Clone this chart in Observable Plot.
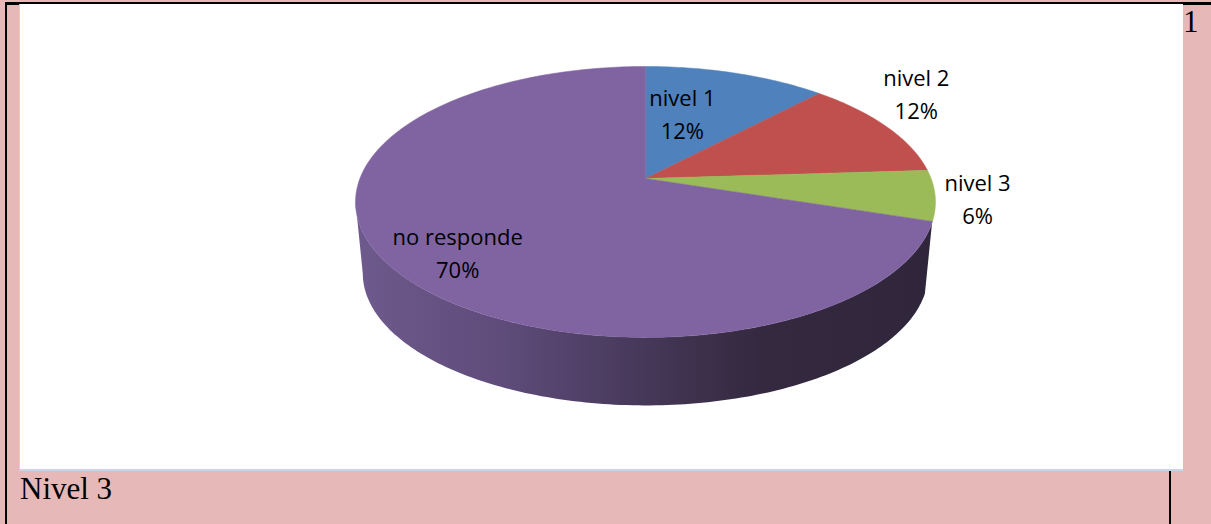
<!DOCTYPE html>
<html>
<head>
<meta charset="utf-8">
<script src="https://cdn.jsdelivr.net/npm/d3@7"></script>
<script src="https://cdn.jsdelivr.net/npm/@observablehq/plot@0.6"></script>
<style>
  html, body { margin: 0; padding: 0; }
  body { width: 1211px; height: 524px; position: relative; overflow: hidden; background: #e6b8b7; }
  .blk { position: absolute; background: #000; }
  #chart { position: absolute; left: 20px; top: 4px; width: 1163px; height: 465px; background: #fff;
           border-bottom: 2px solid #c6d5ec; }
  #chart svg { display: block; }
  #leftedge { position: absolute; left: 19px; top: 4px; width: 1px; height: 467px; background: #c6d5ec; }
  .serif { position: absolute; font-family: "Liberation Serif", "Times New Roman", serif; font-size: 31px; line-height: 31px; color: #000; }
</style>
</head>
<body>
<div class="blk" style="left:5px;top:2px;width:1206px;height:3px"></div>
<div class="blk" style="left:5px;top:2px;width:2px;height:522px"></div>
<div class="blk" style="left:1169px;top:471px;width:2px;height:53px"></div>
<div id="leftedge"></div>
<div id="chart"></div>
<div class="serif" style="left:1183px;top:6px">1</div>
<div class="serif" style="left:20px;top:473px">Nivel 3</div>
<script>
// ---- data ----
const categories = ["nivel 1", "nivel 2", "nivel 3", "no responde"];
const values = [12, 12, 6, 70];
const colors = ["#4f81bd", "#c0504d", "#9bbb59", "#8064a2"];
const sideColors = ["#34557f", "#7f3533", "#5f7a2f", "url(#sideGrad)"];

// ---- 3D pie projection (layout) ----
const A = 285.6, B = 131.4, K = 0.173, DEPTH = 72, BOTTOM_SCALE = 0.975;
const rad = d => d * Math.PI / 180;
function P(theta, r = 1) {
  const s = Math.sin(rad(theta)), c = Math.cos(rad(theta));
  const w = 1 + K * r * c;
  return { x: r * s * A / w, y: -r * c * B / w };
}
const total = d3.sum(values);
let acc = 0;
const slices = categories.map((cat, i) => {
  const a0 = acc / total * 360;
  acc += values[i];
  const a1 = acc / total * 360;
  return { cat, value: values[i], a0, a1, color: colors[i], side: sideColors[i] };
});

function arcPts(a0, a1, r = 1) {
  const n = Math.max(2, Math.ceil((a1 - a0) / 1));
  return d3.range(n + 1).map(j => P(a0 + (a1 - a0) * j / n, r));
}

// visible front side range (silhouette of the slanted side)
const vis0 = 108.5, vis1 = 260;
const marks = [];
slices.forEach(s => {
  const lo = Math.max(s.a0, vis0), hi = Math.min(s.a1, vis1);
  if (hi > lo) {
    const top = arcPts(lo, hi);
    const bot = top.map(p => ({ x: p.x * BOTTOM_SCALE, y: p.y * BOTTOM_SCALE + DEPTH })).reverse();
    marks.push(Plot.line([...top, ...bot, top[0]], { x: "x", y: "y", fill: s.side, stroke: "none", curve: "linear" }));
  }
});
slices.forEach(s => {
  const pts = [{ x: 0, y: 0 }, ...arcPts(s.a0, s.a1), { x: 0, y: 0 }];
  marks.push(Plot.line(pts, { x: "x", y: "y", fill: s.color, stroke: s.color, strokeWidth: 0.5, curve: "linear" }));
});

// labels
const labelLayout = {
  "nivel 1": { r: 0.65, dx: -25, dy: 5 },
  "nivel 2": { r: 1.25, dx: -25, dy: -23 },
  "nivel 3": { r: 1.25, dx: -32, dy: -3 },
  "no responde": { r: 0.65, dx: -27, dy: 19 }
};
const labels = slices.map(s => {
  const L = labelLayout[s.cat];
  const p = P((s.a0 + s.a1) / 2, L.r);
  return { x: p.x + L.dx, y: p.y + L.dy, text: `${s.cat}\n${s.value}%` };
});
marks.push(Plot.text(labels, {
  x: "x", y: "y", text: "text", fontSize: 22, lineHeight: 1.5,
  fill: "#000", textAnchor: "middle", fontFamily: "Open Sans"
}));

const svg = Plot.plot({
  width: 1163, height: 465,
  margin: 0,
  x: { domain: [-625, 538], range: [0, 1163], axis: null },
  y: { domain: [-174, 291], range: [0, 465], axis: null },
  style: { background: "#fff", fontFamily: "Open Sans" },
  marks
});
svg.insertAdjacentHTML("afterbegin",
  `<defs><linearGradient id="sideGrad" x1="0" x2="1" y1="0" y2="0">
    <stop offset="0" stop-color="#6e5a8c"/>
    <stop offset="0.25" stop-color="#5f4c7b"/>
    <stop offset="0.5" stop-color="#463859"/>
    <stop offset="0.7" stop-color="#34293f"/>
    <stop offset="1" stop-color="#30263b"/>
  </linearGradient></defs>`);
document.getElementById("chart").appendChild(svg);
</script>
</body>
</html>
